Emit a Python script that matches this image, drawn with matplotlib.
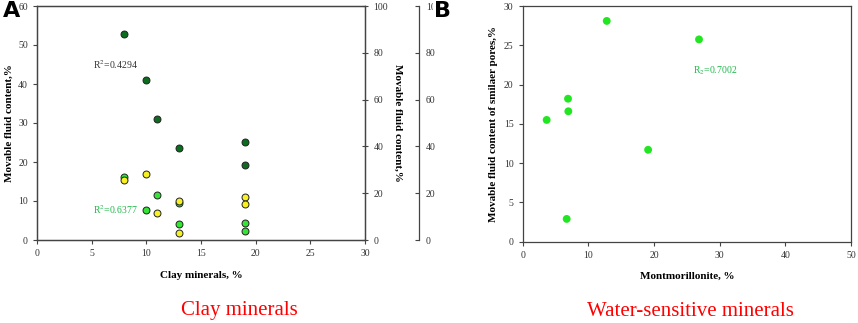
import matplotlib
matplotlib.use("Agg")
import matplotlib.pyplot as plt

plt.rcParams['font.family'] = ['Liberation Serif', 'DejaVu Serif']
plt.rcParams['mathtext.fontset'] = 'stix'

# Panel A: clay minerals vs movable fluid content
clay_dark = [8, 10, 11, 13, 19, 19]
fluid_dark = [52.7, 41.0, 30.9, 23.7, 25.2, 19.2]

clay_light = [8, 10, 11, 13, 13, 19, 19]
fluid_light = [16.2, 7.7, 11.5, 4.1, 9.6, 4.3, 2.2]

clay_yellow = [8, 10, 11, 13, 13, 19, 19]
fluid_yellow = [15.4, 16.9, 7.0, 10.0, 1.7, 11.1, 9.3]

# Panel B: montmorillonite vs movable fluid content of smaller pores
montmorillonite = [3.65, 6.7, 6.9, 6.95, 12.8, 19.1, 26.85]
fluid_small = [15.5, 2.9, 18.2, 16.6, 28.1, 11.7, 25.75]

W, H = 858, 323
fig = plt.figure(figsize=(W / 100, H / 100), dpi=100)

spine_col = '#444444'
tick_col = '#333333'

def style(ax):
    for s in ax.spines.values():
        s.set_color(spine_col)
        s.set_linewidth(0.9)
    ax.tick_params(labelsize=7, colors=spine_col, labelcolor=tick_col, length=3, width=0.8)

# ---- panel A ----
axA = fig.add_axes([37 / W, 1 - 240 / H, 328 / W, 234 / H])
axA.scatter(clay_dark, fluid_dark, s=25, color='#0b6e1e', edgecolors='#222222', linewidths=0.7, zorder=3)
axA.scatter(clay_light, fluid_light, s=25, color='#33e633', edgecolors='#222222', linewidths=0.7, zorder=3)
axA.scatter(clay_yellow, fluid_yellow, s=25, color='#f7f21e', edgecolors='#222222', linewidths=0.7, zorder=4)
axA.set_xlim(0, 30)
axA.set_ylim(0, 60)
axA.set_xticks(range(0, 31, 5))
axA.set_yticks(range(0, 61, 10))
style(axA)
axA.set_xlabel('Clay minerals, %', fontsize=8, fontweight='bold', labelpad=9)
axA.set_ylabel('Movable fluid content,%', fontsize=8, fontweight='bold', labelpad=3)
axA.text(5.1, 44.9, 'R$^2$=0.4294', fontsize=7, color='#333333', va='center')
axA.text(5.1, 7.7, 'R$^2$=0.6377', fontsize=7, color='#1fb84a', va='center')

axA2 = axA.twinx()
axA2.set_ylim(0, 100)
axA2.set_yticks(range(0, 101, 20))
style(axA2)
axA2.tick_params(direction='inout', length=5)
axA2.set_ylabel('Movable fluid content,%', fontsize=8, fontweight='bold', rotation=270, labelpad=10)

axA3 = axA.twinx()
axA3.set_ylim(0, 100)
axA3.set_yticks(range(0, 101, 20))
axA3.spines['right'].set_position(('axes', (419 - 37) / 328))
for s in ['top', 'left', 'bottom']:
    axA3.spines[s].set_visible(False)
style(axA3)
axA3.tick_params(direction='in', length=3, pad=5)

# ---- panel B ----
axB = fig.add_axes([522.7 / W, 1 - 241.7 / H, 328.3 / W, 235.7 / H])
axB.scatter(montmorillonite, fluid_small, s=32, color='#22e622', edgecolors='none', zorder=3)
axB.set_xlim(0, 50)
axB.set_ylim(0, 30)
axB.set_xticks(range(0, 51, 10))
axB.set_yticks(range(0, 31, 5))
style(axB)
axB.set_xlabel('Montmorillonite, %', fontsize=8, fontweight='bold', labelpad=9)
axB.set_ylabel('Movable fluid content of smilaer pores,%', fontsize=8, fontweight='bold', labelpad=4)
axB.text(26, 21.7, 'R$_2$=0.7002', fontsize=7, color='#1fb84a', va='center')

# panel letters
fig.text(3 / W, 1 - 11 / H, 'A', fontsize=16, fontweight='bold', family='DejaVu Sans', va='center')
fig.text(434 / W, 1 - 11 / H, 'B', fontsize=16, fontweight='bold', family='DejaVu Sans', va='center',
         bbox=dict(facecolor='white', edgecolor='none', pad=1))

# captions
fig.text(239 / W, 1 - 311 / H, 'Clay minerals', fontsize=15, color='red', ha='center', va='center')
fig.text(690 / W, 1 - 311 / H, 'Water-sensitive minerals', fontsize=15, color='red', ha='center', va='center')

fig.savefig('out.png', dpi=100)
